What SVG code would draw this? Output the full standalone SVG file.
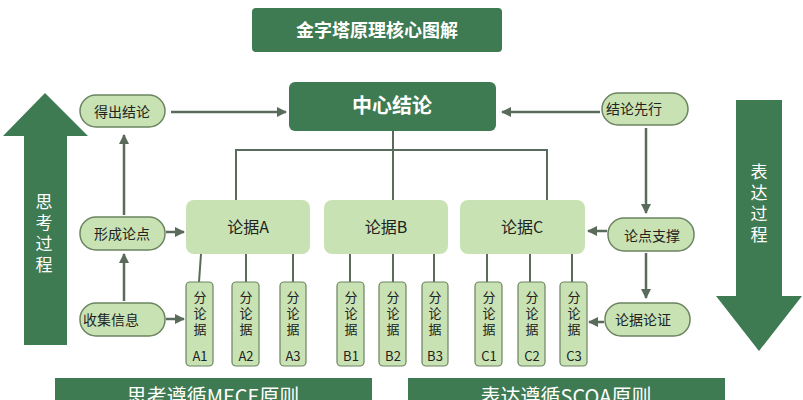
<svg xmlns="http://www.w3.org/2000/svg" width="803" height="400" viewBox="0 0 803 400">
<style>
text{font-family:"Noto Sans CJK SC","Noto Sans",sans-serif;fill:#222;text-anchor:middle}
.dk{fill:#3e7a52}
.lt{fill:#c9e2b3}
.pill{fill:#c9e2b3;stroke:#6b8460;stroke-width:1.5}
.sub{fill:#c9e2b3;stroke:#6b8460;stroke-width:1.2}
.w{fill:#fff}
.ln{stroke:#5b6b5b;stroke-width:2.5;fill:none}
</style>
<defs>
<marker id="ah" viewBox="0 0 10 10" refX="9" refY="5" markerWidth="4" markerHeight="4" orient="auto"><path d="M0,0L10,5L0,10z" fill="#5b6b5b"/></marker>
</defs>
<rect width="803" height="400" fill="#fff"/>
<g id="title"><rect class="dk" x="252" y="8" width="250" height="44" rx="4"/><text class="w" x="377" y="37" font-size="18" font-weight="bold">金字塔原理核心图解</text></g>
<g id="thinkArrow"><path class="dk" d="M45,93L88,136H67V345H24V136H3Z"/><text class="w" font-size="17" x="44" y="208">思</text><text class="w" font-size="17" x="44" y="229">考</text><text class="w" font-size="17" x="44" y="250">过</text><text class="w" font-size="17" x="44" y="271">程</text></g>
<g id="exprArrow"><path class="dk" d="M736,100H782V296H802L759,351L716,296H736Z"/><text class="w" font-size="17" x="759" y="178">表</text><text class="w" font-size="17" x="759" y="199">达</text><text class="w" font-size="17" x="759" y="220">过</text><text class="w" font-size="17" x="759" y="241">程</text></g>
<g id="connectors">
<path class="ln" d="M171,112H286" marker-end="url(#ah)"/>
<path class="ln" d="M600,112H502" marker-end="url(#ah)"/>
<path class="ln" d="M124,215V135" marker-end="url(#ah)"/>
<path class="ln" d="M124,301V254" marker-end="url(#ah)"/>
<path class="ln" d="M646,128V213" marker-end="url(#ah)"/>
<path class="ln" d="M646,253V298" marker-end="url(#ah)"/>
<path class="ln" d="M166,232H184" marker-end="url(#ah)"/>
<path class="ln" d="M607,231H588" marker-end="url(#ah)"/>
<path class="ln" d="M166,319H184" marker-end="url(#ah)"/>
<path class="ln" d="M604,322H589" marker-end="url(#ah)"/>
<path d="M236,200V150H547V200M393,131V200" stroke="#5b6b5b" stroke-width="2" fill="none"/>
<path d="M201,254L199,282M246,254V282M293,254V282M350,254V282M393,254V282M434,254V282M487,254V282M530,254V282M572,254V282" stroke="#5b6b5b" stroke-width="2" fill="none"/>
</g>
<g id="center"><rect class="dk" x="289" y="82" width="207" height="49" rx="6"/><text class="w" x="392" y="113" font-size="20" font-weight="bold">中心结论</text></g>
<g id="deChu"><rect class="pill" x="80" y="95" width="85" height="32" rx="16"/><text x="122" y="117" font-size="14">得出结论</text></g>
<g id="xingCheng"><rect class="pill" x="80" y="217" width="85" height="33" rx="16"/><text x="122" y="239" font-size="14">形成论点</text></g>
<g id="shouJi"><rect class="pill" x="80" y="303" width="85" height="33" rx="16"/><text x="111" y="325" font-size="14">收集信息</text></g>
<g id="jieLun"><rect class="pill" x="602" y="93" width="86" height="32" rx="16"/><text x="634" y="114" font-size="14">结论先行</text></g>
<g id="lunDian"><rect class="pill" x="608" y="218" width="86" height="33" rx="16"/><text x="652" y="241" font-size="14">论点支撑</text></g>
<g id="lunZheng"><rect class="pill" x="605" y="303" width="85" height="33" rx="16"/><text x="643" y="325" font-size="14">论据论证</text></g>
<g id="lunA"><rect class="lt" x="186" y="200" width="124" height="54" rx="8"/><text x="248" y="233" font-size="16">论据A</text></g>
<g id="lunB"><rect class="lt" x="324" y="200" width="124" height="54" rx="8"/><text x="386" y="233" font-size="16">论据B</text></g>
<g id="lunC"><rect class="lt" x="460" y="200" width="125" height="54" rx="8"/><text x="522" y="233" font-size="16">论据C</text></g>
<g id="subs" font-size="13">
<g id="A1"><rect class="sub" x="186" y="282" width="27" height="84" rx="4"/><text x="200" y="302" font-size="13">分</text><text x="200" y="318" font-size="13">论</text><text x="200" y="334" font-size="13">据</text><text x="200" y="361" font-size="13">A1</text></g>
<g id="A2"><rect class="sub" x="232" y="282" width="27" height="84" rx="4"/><text x="246" y="302" font-size="13">分</text><text x="246" y="318" font-size="13">论</text><text x="246" y="334" font-size="13">据</text><text x="246" y="361" font-size="13">A2</text></g>
<g id="A3"><rect class="sub" x="280" y="282" width="26" height="84" rx="4"/><text x="293" y="302" font-size="13">分</text><text x="293" y="318" font-size="13">论</text><text x="293" y="334" font-size="13">据</text><text x="293" y="361" font-size="13">A3</text></g>
<g id="B1"><rect class="sub" x="337" y="282" width="27" height="84" rx="4"/><text x="351" y="302" font-size="13">分</text><text x="351" y="318" font-size="13">论</text><text x="351" y="334" font-size="13">据</text><text x="351" y="361" font-size="13">B1</text></g>
<g id="B2"><rect class="sub" x="379" y="282" width="27" height="84" rx="4"/><text x="393" y="302" font-size="13">分</text><text x="393" y="318" font-size="13">论</text><text x="393" y="334" font-size="13">据</text><text x="393" y="361" font-size="13">B2</text></g>
<g id="B3"><rect class="sub" x="422" y="282" width="26" height="84" rx="4"/><text x="435" y="302" font-size="13">分</text><text x="435" y="318" font-size="13">论</text><text x="435" y="334" font-size="13">据</text><text x="435" y="361" font-size="13">B3</text></g>
<g id="C1"><rect class="sub" x="475" y="282" width="27" height="84" rx="4"/><text x="489" y="302" font-size="13">分</text><text x="489" y="318" font-size="13">论</text><text x="489" y="334" font-size="13">据</text><text x="489" y="361" font-size="13">C1</text></g>
<g id="C2"><rect class="sub" x="518" y="282" width="27" height="84" rx="4"/><text x="532" y="302" font-size="13">分</text><text x="532" y="318" font-size="13">论</text><text x="532" y="334" font-size="13">据</text><text x="532" y="361" font-size="13">C2</text></g>
<g id="C3"><rect class="sub" x="560" y="282" width="27" height="84" rx="4"/><text x="574" y="302" font-size="13">分</text><text x="574" y="318" font-size="13">论</text><text x="574" y="334" font-size="13">据</text><text x="574" y="361" font-size="13">C3</text></g>
</g>
<g id="mece"><rect class="dk" x="55" y="378" width="317" height="30"/><text class="w" x="213" y="404" font-size="20">思考遵循MECE原则</text></g>
<g id="scqa"><rect class="dk" x="408" y="378" width="317" height="30"/><text class="w" x="566" y="404" font-size="20">表达遵循SCQA原则</text></g>
</svg>
